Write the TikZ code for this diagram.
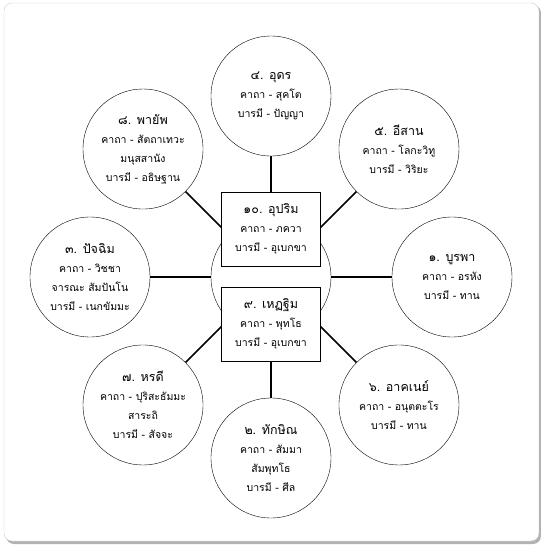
\documentclass[tikz,border=0pt]{standalone}
\usepackage{fontspec}
\newfontfamily\thaifont[Script=Thai]{Loma}
\newcommand{\dirname}[1]{{\fontsize{12.5}{19}\selectfont #1}}
\begin{document}
\begin{tikzpicture}[x=1pt, y=1pt,
    every node/.style={font=\thaifont\fontsize{10.5}{19}\selectfont, align=center},
    place/.style={circle, draw, thin, minimum size=120pt, inner sep=0pt},
    levelbox/.style={draw, fill=white, minimum width=99pt, minimum height=74pt, inner sep=0pt},
    link/.style={line width=1.6pt}]
    \useasboundingbox (-271,-273) rectangle (279,277);
    % frame
    \fill[black!30, rounded corners=8pt] (-265,-267) rectangle (270,272);
    \draw[black!20, fill=white, rounded corners=8pt] (-267,-264) rectangle (268,274);
    % directions
    \node[place] (mid) at (0,0) {};
    \node[place] (e) at (0:181) {\dirname{๑. บูรพา}\\คาถา - อรหัง\\บารมี - ทาน};
    \node[place] (ne) at (45:181) {\dirname{๕. อีสาน}\\คาถา - โลกะวิทู\\บารมี - วิริยะ};
    \node[place] (n) at (90:181) {\dirname{๔. อุดร}\\คาถา - สุคโต\\บารมี - ปัญญา};
    \node[place] (nw) at (135:181) {\dirname{๘. พายัพ}\\คาถา - สัตถาเทวะ\\มนุสสานัง\\บารมี - อธิษฐาน};
    \node[place] (w) at (180:181) {\dirname{๓. ปัจฉิม}\\คาถา - วิชชา\\จารณะ สัมปันโน\\บารมี - เนกขัมมะ};
    \node[place] (sw) at (225:181) {\dirname{๗. หรดี}\\คาถา - ปุริสะธัมมะ\\สาระถิ\\บารมี - สัจจะ};
    \node[place] (s) at (270:181) {\dirname{๒. ทักษิณ}\\คาถา - สัมมา\\สัมพุทโธ\\บารมี - ศีล};
    \node[place] (se) at (315:181) {\dirname{๖. อาคเนย์}\\คาถา - อนุตตะโร\\บารมี - ทาน};
    \foreach \d in {e,ne,n,nw,w,sw,s,se}
        \draw[link] (mid) -- (\d);
    % upper and lower
    \node[levelbox] (upper) at (0,48) {\dirname{๑๐. อุปริม}\\คาถา - ภควา\\บารมี - อุเบกขา};
    \node[levelbox] (lower) at (0,-47) {\dirname{๙. เหฏฐิม}\\คาถา - พุทโธ\\บารมี - อุเบกขา};
\end{tikzpicture}
\end{document}
